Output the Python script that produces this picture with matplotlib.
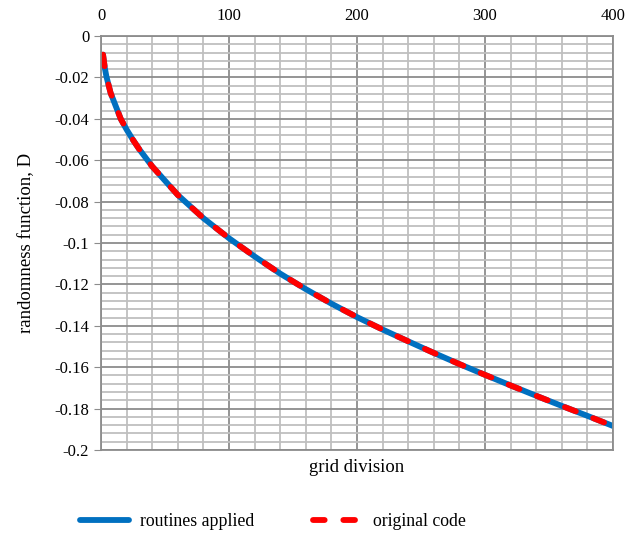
import numpy as np
import matplotlib.pyplot as plt
from matplotlib.ticker import MultipleLocator

plt.rcParams['font.family'] = ['Liberation Serif', 'DejaVu Serif']

# grid division vs randomness function D
grid_div = [1.6, 3, 4.2, 7.5, 15.4, 20, 25, 30, 40, 60, 80, 100, 120, 140, 160,
            180, 200, 220, 240, 260, 280, 300, 320, 340, 360, 380, 400]
D_routines = [-0.009, -0.0155, -0.0195, -0.0275, -0.040, -0.0452, -0.0502,
              -0.0548, -0.063, -0.0768, -0.088, -0.0977, -0.1065, -0.1148,
              -0.1223, -0.1293, -0.1358, -0.1418, -0.1475, -0.1531, -0.1585,
              -0.1637, -0.1688, -0.1738, -0.1787, -0.1835, -0.1884]
D_original = list(D_routines)

fig = plt.figure(figsize=(6.42, 5.37), dpi=100)
ax = fig.add_axes([101/642, 1-450/537, 512/642, 414/537])

ax.plot(grid_div, D_routines, color='#0070C0', lw=4.2, label='routines applied',
        solid_capstyle='round', solid_joinstyle='round')
ax.plot(grid_div, D_original, color='#FF0000', lw=4.2, ls=(0, (2.0, 3.2)),
        label='original code', dash_capstyle='round', dash_joinstyle='round')

ax.set_xlim(0, 400)
ax.set_ylim(-0.2, 0)
ax.xaxis.set_major_locator(MultipleLocator(100))
ax.xaxis.set_minor_locator(MultipleLocator(20))
ax.yaxis.set_major_locator(MultipleLocator(0.02))
ax.yaxis.set_minor_locator(MultipleLocator(0.004))
ax.set_yticklabels(['%g' % v for v in ax.get_yticks()])
ax.grid(which='major', color='#8c8c8c', lw=1.3)
ax.grid(which='minor', color='#bfbfbf', lw=1.3)
ax.set_axisbelow(True)
ax.xaxis.tick_top()
ax.tick_params(axis='x', which='both', length=0, labelsize=12, pad=9)
ax.tick_params(axis='y', which='major', length=5, color='#8c8c8c', labelsize=12)
ax.tick_params(axis='y', which='minor', length=0)
for s in ax.spines.values():
    s.set_color('#8c8c8c')
    s.set_linewidth(1.3)

ax.set_ylabel('randomness function, D', fontsize=13.5, labelpad=14)
fig.text(357/642, 1-467/537, 'grid division', ha='center', va='center', fontsize=13.5)

fig.legend(loc='center', bbox_to_anchor=(0.425, 1-522/537), ncol=2, frameon=False,
           fontsize=12.8, handlelength=2.8, handletextpad=0.6, columnspacing=3.3)

fig.savefig('out.png', dpi=100)
